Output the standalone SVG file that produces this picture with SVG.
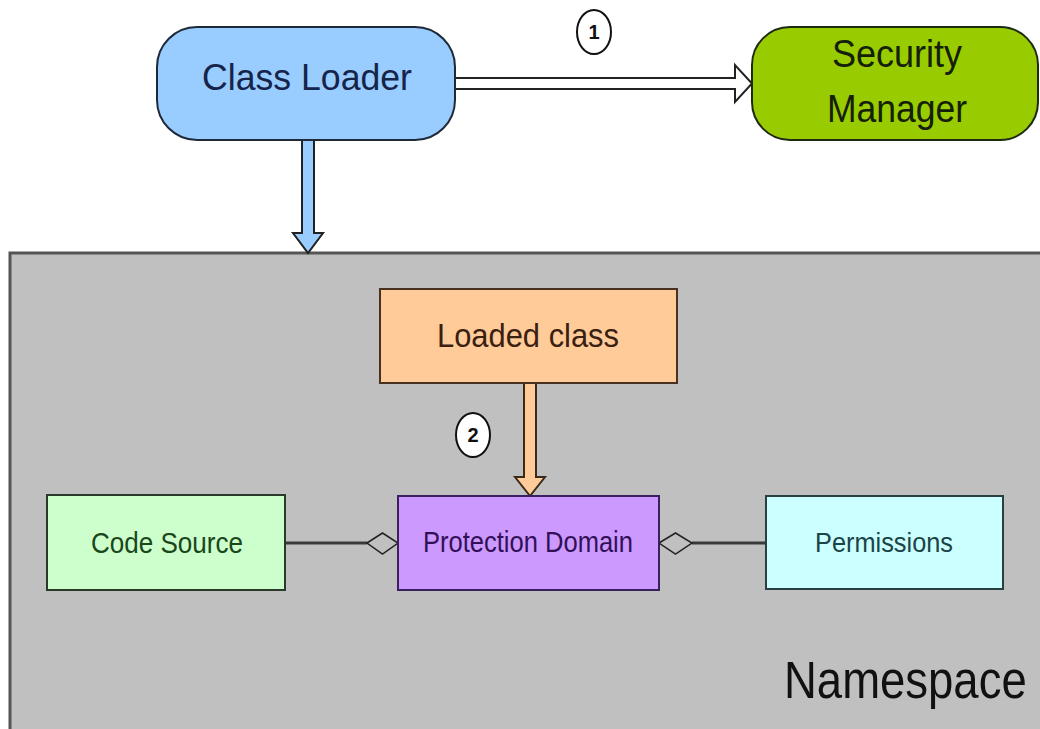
<svg xmlns="http://www.w3.org/2000/svg" width="1040" height="729" viewBox="0 0 1040 729">
  <style>
    .lbl { font-family: "Liberation Sans", Arial, sans-serif; text-anchor: middle; }
    .box { stroke-width: 2; }
    .badge { fill: #ffffff; stroke: #111111; stroke-width: 2; }
    .badge-txt { font-family: "Liberation Sans", Arial, sans-serif; font-weight: bold; font-size: 20px; text-anchor: middle; fill: #111111; }
    .link { stroke: #3a3a3a; stroke-width: 3; fill: none; }
    .diamond { fill: #c0c0c0; stroke: #222222; stroke-width: 1.5; }
  </style>

  <rect width="1040" height="729" fill="#ffffff"/>

  <!-- namespace container: open to the right and bottom edges -->
  <g id="namespace">
    <rect x="10" y="253" width="1030" height="476" fill="#c0c0c0"/>
    <path d="M10,729 L10,253 L1040,253" fill="none" stroke="#555555" stroke-width="3"/>
    <!-- tall, narrow caption: scaled vertically -->
    <text transform="translate(784,698) scale(1,1.14)" x="0" y="0" font-family="Liberation Sans, Arial, sans-serif" font-size="45.5" fill="#111111">Namespace</text>
  </g>

  <!-- connectors -->
  <g id="connectors">
    <!-- class loader to security manager (hollow arrow) -->
    <path d="M455,78 L735,78 L735,65 L752,83.5 L735,102 L735,89 L455,89 Z" fill="#ffffff" stroke="#222222" stroke-width="2" stroke-linejoin="miter"/>
    <!-- class loader into namespace -->
    <path d="M302,140 L314,140 L314,233 L323,233 L308,253 L293,233 L302,233 Z" fill="#99ccff" stroke="#222222" stroke-width="2"/>
    <!-- loaded class to protection domain -->
    <path d="M524,383 L536,383 L536,477 L545,477 L530,496 L515,477 L524,477 Z" fill="#ffcc99" stroke="#3a2a1a" stroke-width="2"/>
    <!-- aggregation links -->
    <line class="link" x1="285" y1="543" x2="367" y2="543"/>
    <path class="diamond" d="M367,543 L382.5,533 L398,543 L382.5,554 Z"/>
    <line class="link" x1="692" y1="543" x2="766" y2="543"/>
    <path class="diamond" d="M659,543 L675.5,533 L692,543 L675.5,554 Z"/>
    <!-- step badges -->
    <ellipse class="badge" cx="594" cy="32" rx="17" ry="22"/>
    <text class="badge-txt" x="594" y="39">1</text>
    <ellipse class="badge" cx="473" cy="435" rx="17" ry="22"/>
    <text class="badge-txt" x="473" y="442">2</text>
  </g>

  <g id="class-loader">
    <rect class="box" x="157" y="27" width="298" height="113" rx="40" ry="40" fill="#99ccff" stroke="#1e2a3a"/>
    <text class="lbl" x="307" y="90" font-size="37" fill="#152448" textLength="210" lengthAdjust="spacingAndGlyphs">Class Loader</text>
  </g>

  <g id="security-manager">
    <rect class="box" x="752" y="27" width="286" height="113" rx="38" ry="38" fill="#99cc00" stroke="#1e2a10"/>
    <text class="lbl" x="897" y="67" font-size="38" fill="#142008" textLength="130" lengthAdjust="spacingAndGlyphs">Security</text>
    <text class="lbl" x="897" y="122" font-size="38" fill="#142008" textLength="140" lengthAdjust="spacingAndGlyphs">Manager</text>
  </g>

  <g id="loaded-class">
    <rect class="box" x="380" y="289" width="297" height="94" fill="#ffcc99" stroke="#4a3020"/>
    <text class="lbl" x="528" y="347" font-size="33" fill="#3a2010" textLength="182" lengthAdjust="spacingAndGlyphs">Loaded class</text>
  </g>

  <g id="protection-domain">
    <rect class="box" x="398" y="496" width="261" height="94" fill="#cc99ff" stroke="#3a2060"/>
    <text class="lbl" x="528" y="552" font-size="30" fill="#321058" textLength="210" lengthAdjust="spacingAndGlyphs">Protection Domain</text>
  </g>

  <g id="code-source">
    <rect class="box" x="47" y="495" width="238" height="95" fill="#ccffcc" stroke="#2a3a2a"/>
    <text class="lbl" x="167" y="553" font-size="30" fill="#1a461a" textLength="152" lengthAdjust="spacingAndGlyphs">Code Source</text>
  </g>

  <g id="permissions">
    <rect class="box" x="766" y="496" width="237" height="93" fill="#ccffff" stroke="#2a4040"/>
    <text class="lbl" x="884" y="552" font-size="27" fill="#1a4446" textLength="138" lengthAdjust="spacingAndGlyphs">Permissions</text>
  </g>
</svg>
